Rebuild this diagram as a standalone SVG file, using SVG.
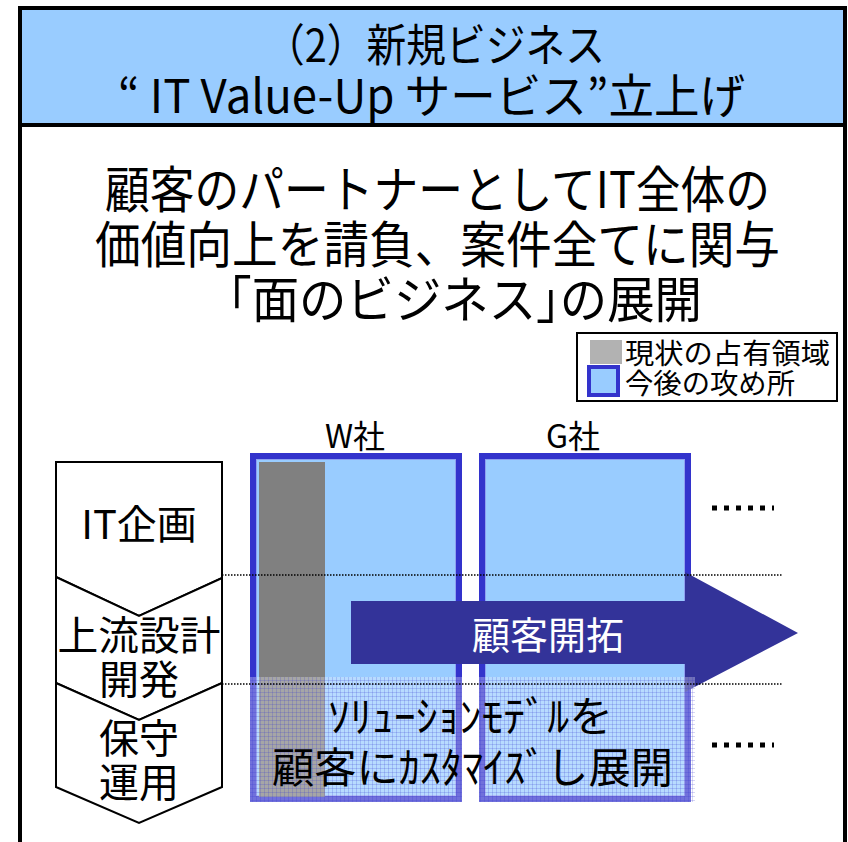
<svg xmlns="http://www.w3.org/2000/svg" width="848" height="842" viewBox="0 0 848 842">
<style>
text{font-family:"Noto Sans CJK JP","Noto Sans",sans-serif;fill:#000}
.box{fill:#99CCFF;stroke:#3333CC;stroke-width:6}
.inner{fill:none;stroke:#8FA0F0;stroke-width:1}
.chev{fill:#fff;stroke:#000;stroke-width:2}
.dot{stroke:#000;stroke-width:1.5;stroke-dasharray:1.5 1.5;fill:none}
.bdot{stroke:#000;stroke-width:5;stroke-dasharray:5 7;fill:none}
</style>
<defs>
<pattern id="mesh" width="4" height="4" patternUnits="userSpaceOnUse">
<rect width="4" height="4" fill="#fff" fill-opacity="0.3"/>
<path d="M0.5 0V4M0 0.5H4" stroke="#3333CC" stroke-opacity="0.2" stroke-width="1"/>
</pattern>
</defs>
<g id="frame">
<rect x="20" y="8" width="825" height="850" fill="#fff" stroke="#000" stroke-width="4"/>
<rect x="20" y="8" width="825" height="117" fill="#99CCFF" stroke="#000" stroke-width="4"/>
</g>
<g id="header">
<text x="265" y="62" font-size="45" textLength="340" lengthAdjust="spacingAndGlyphs">（2）新規ビジネス</text>
<text x="118" y="113" font-size="47" textLength="627" lengthAdjust="spacingAndGlyphs">“ IT Value-Up サービス”立上げ</text>
</g>
<g id="title">
<text x="105" y="208" font-size="50" textLength="665" lengthAdjust="spacingAndGlyphs">顧客のパートナーとしてIT全体の</text>
<text x="95" y="263" font-size="50" textLength="685" lengthAdjust="spacingAndGlyphs">価値向上を請負、案件全てに関与</text>
<text x="228" y="318" font-size="50" textLength="474" lengthAdjust="spacingAndGlyphs">｢面のビジネス｣の展開</text>
</g>
<g id="legend">
<rect x="577" y="333" width="260" height="68" fill="#fff" stroke="#000" stroke-width="2"/>
<rect x="590" y="340" width="32" height="24" fill="#B2B2B2"/>
<rect x="589" y="367" width="29" height="28" fill="#99CCFF" stroke="#3333CC" stroke-width="4"/>
<text x="625" y="364" font-size="28" textLength="205" lengthAdjust="spacingAndGlyphs">現状の占有領域</text>
<text x="625" y="394" font-size="28" textLength="170" lengthAdjust="spacingAndGlyphs">今後の攻め所</text>
</g>
<g id="chevron-plan">
<polygon class="chev" points="56,462 222,462 222,578 139,616 56,577"/>
<text x="139" y="539" font-size="40" text-anchor="middle">IT企画</text>
</g>
<g id="chevron-dev">
<polygon class="chev" points="56,577 139,616 222,578 222,683 139,720 56,683"/>
<text x="139" y="650" font-size="40" text-anchor="middle" textLength="163" lengthAdjust="spacingAndGlyphs">上流設計</text>
<text x="139" y="694" font-size="40" text-anchor="middle">開発</text>
</g>
<g id="chevron-ops">
<polygon class="chev" points="56,683 139,720 222,683 222,787 139,823 56,787"/>
<text x="139" y="753" font-size="40" text-anchor="middle">保守</text>
<text x="139" y="797" font-size="40" text-anchor="middle">運用</text>
</g>
<g id="company-w">
<text x="355" y="448" font-size="32" text-anchor="middle">W社</text>
<rect class="box" x="253" y="456" width="206" height="343"/>
<rect class="inner" x="256.5" y="459.5" width="199" height="336"/>
<rect x="259" y="462" width="66" height="335" fill="#808080"/>
</g>
<g id="company-g">
<text x="573" y="448" font-size="32" text-anchor="middle">G社</text>
<rect class="box" x="482" y="456" width="206" height="343"/>
<rect class="inner" x="485.5" y="459.5" width="199" height="336"/>
</g>
<g id="arrow">
<polygon points="351,601 685,601 685,572 798,633 685,692 685,664 351,664" fill="#333399"/>
<text x="548" y="649" font-size="38" style="fill:#fff" text-anchor="middle">顧客開拓</text>
</g>
<g id="mesh-area">
<rect x="250" y="677" width="212" height="125" fill="url(#mesh)"/>
<rect x="479" y="677" width="216" height="125" fill="url(#mesh)"/>
<text x="328" y="732" font-size="42" textLength="285" lengthAdjust="spacingAndGlyphs">ｿﾘｭｰｼｮﾝﾓﾃﾞﾙを</text>
<text x="272" y="783" font-size="42" textLength="401" lengthAdjust="spacingAndGlyphs">顧客にｶｽﾀﾏｲｽﾞし展開</text>
</g>
<g id="connectors">
<line class="dot" x1="222" y1="575" x2="782" y2="575"/>
<line class="dot" x1="222" y1="684" x2="782" y2="684"/>
<line class="bdot" x1="712" y1="508" x2="774" y2="508"/>
<line class="bdot" x1="712" y1="745" x2="774" y2="745"/>
</g>
</svg>
